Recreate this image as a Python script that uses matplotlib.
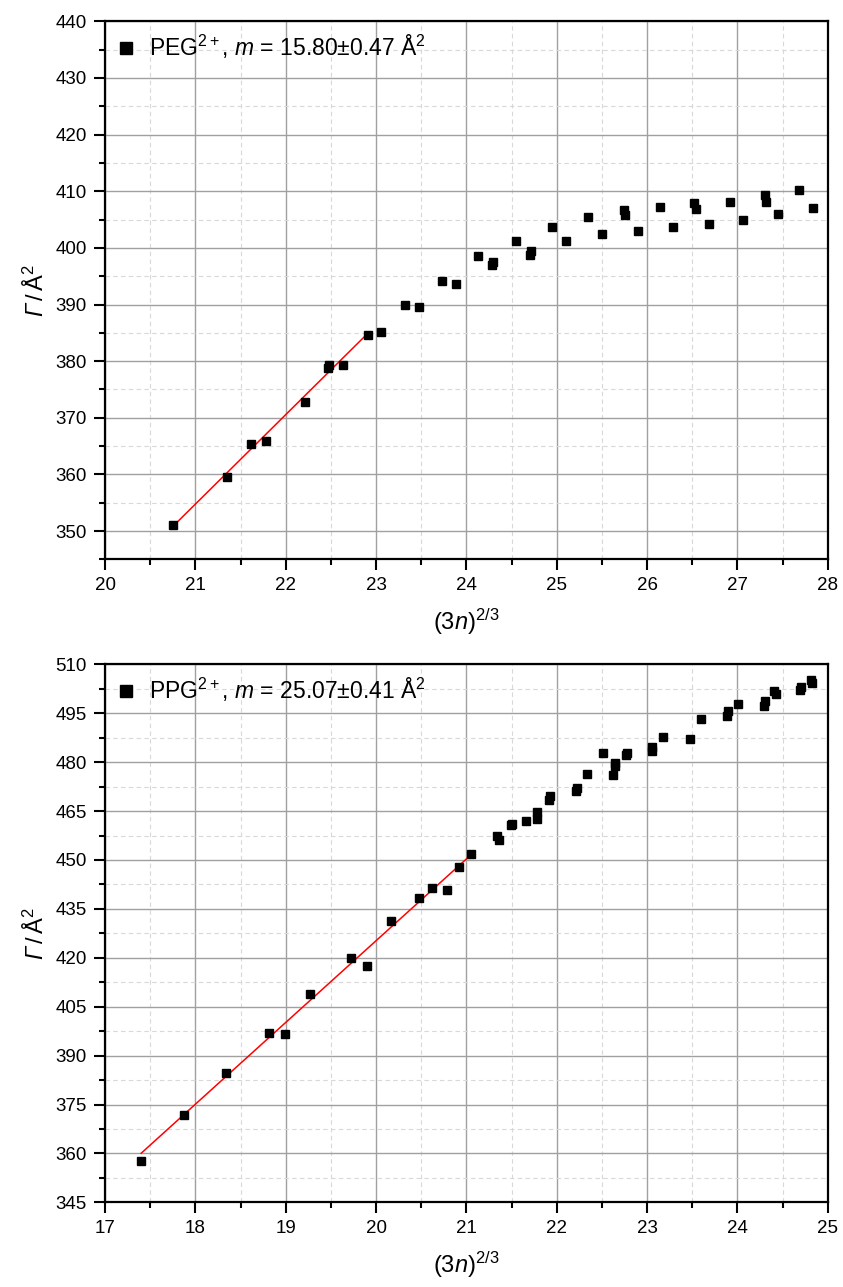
import numpy as np
import matplotlib
matplotlib.use('Agg')
import matplotlib.pyplot as plt
from matplotlib.ticker import MultipleLocator

plt.rcParams['font.family'] = ['Liberation Sans', 'DejaVu Sans']
plt.rcParams['mathtext.fontset'] = 'custom'
plt.rcParams['mathtext.rm'] = 'Liberation Sans'
plt.rcParams['mathtext.it'] = 'Liberation Sans:italic'
# italic capital Gamma goes through \mathsf (mathit forces Greek capitals upright)
plt.rcParams['mathtext.sf'] = 'Liberation Sans:italic'

# PEG2+ data
peg_x = [20.75, 21.35, 21.62, 21.78, 22.21, 22.48, 22.47, 22.63, 22.91, 23.05,
         23.32, 23.47, 23.73, 23.89, 24.13, 24.28, 24.29, 24.55, 24.70, 24.71,
         24.95, 25.10, 25.35, 25.50, 25.74, 25.76, 25.90, 26.14, 26.29, 26.52,
         26.54, 26.69, 26.92, 27.06, 27.30, 27.32, 27.45, 27.68, 27.84]
peg_y = [351.0, 359.6, 365.4, 365.9, 372.8, 379.3, 378.7, 379.4, 384.7, 385.1,
         389.9, 389.5, 394.2, 393.7, 398.5, 397.0, 397.5, 401.3, 398.8, 399.4,
         403.6, 401.3, 405.5, 402.5, 406.7, 405.8, 403.0, 407.2, 403.6, 407.9,
         406.8, 404.2, 408.1, 404.9, 409.3, 408.1, 405.9, 410.2, 407.1]
peg_fit = (15.80, 22.95)       # slope, intercept
peg_fit_range = (20.75, 22.91)
peg_m, peg_err = 15.80, 0.47

# PPG2+ data
ppg_x = [17.40, 17.87, 18.34, 18.81, 18.99, 19.27, 19.72, 19.90, 20.17, 20.48,
         20.62, 20.79, 20.92, 21.05, 21.34, 21.36, 21.49, 21.50, 21.66, 21.78,
         21.78, 21.91, 21.92, 22.21, 22.22, 22.34, 22.51, 22.62, 22.64, 22.65,
         22.77, 22.78, 23.05, 23.06, 23.18, 23.47, 23.60, 23.89, 23.90, 24.01,
         24.29, 24.30, 24.41, 24.43, 24.69, 24.70, 24.81, 24.83]
ppg_y = [357.8, 371.8, 384.8, 396.9, 396.6, 409.0, 420.0, 417.6, 431.4, 438.4,
         441.4, 440.7, 447.9, 451.8, 457.2, 456.0, 460.6, 461.1, 461.9, 462.5,
         464.6, 468.5, 469.6, 471.2, 472.2, 476.4, 482.8, 476.0, 478.8, 479.8,
         482.3, 482.7, 483.5, 484.7, 487.7, 487.0, 493.1, 494.3, 495.6, 497.8,
         497.3, 498.8, 501.8, 500.9, 502.0, 503.1, 505.1, 504.4]
ppg_fit = (25.07, -76.17)
ppg_fit_range = (17.40, 21.07)
ppg_m, ppg_err = 25.07, 0.41

fig = plt.figure(figsize=(8.43, 12.87), dpi=100)
ax1 = fig.add_axes([0.1246, 0.5654, 0.8573, 0.418])
ax2 = fig.add_axes([0.1246, 0.0658, 0.8573, 0.418])

panels = [
    (ax1, peg_x, peg_y, peg_fit, peg_fit_range, 'PEG', peg_m, peg_err,
     (20, 28), (345, 440), 10),
    (ax2, ppg_x, ppg_y, ppg_fit, ppg_fit_range, 'PPG', ppg_m, ppg_err,
     (17, 25), (345, 510), 15),
]

for ax, xs, ys, fit, rng, name, m, err, xlim, ylim, ystep in panels:
    label = name + r'$^{2+}$, $m$ = %.2f±%.2f Å$^{2}$' % (m, err)
    ax.plot(xs, ys, 's', color='black', ms=5.2, label=label, zorder=3)
    xf = np.array(rng)
    ax.plot(xf, fit[0] * xf + fit[1], color='red', lw=1.1, zorder=2)

    ax.set_xlim(*xlim)
    ax.set_ylim(*ylim)
    ax.xaxis.set_major_locator(MultipleLocator(1))
    ax.xaxis.set_minor_locator(MultipleLocator(0.5))
    ax.yaxis.set_major_locator(MultipleLocator(ystep))
    ax.yaxis.set_minor_locator(MultipleLocator(ystep / 2))
    ax.grid(which='major', color='#a0a0a0', lw=1.0, ls='-')
    ax.grid(which='minor', color='#d8d8d8', lw=0.8, ls=(0, (4, 3)))
    ax.set_axisbelow(True)

    for s in ax.spines.values():
        s.set_linewidth(1.6)
    ax.tick_params(which='major', direction='out', length=8, width=1.5,
                   labelsize=13.5, pad=5)
    ax.tick_params(which='minor', direction='out', length=4.5, width=1.5)

    ax.set_xlabel(r'(3$n$)$^{2/3}$', fontsize=17, labelpad=9)
    ax.set_ylabel(r'$\mathsf{\Gamma}\,/\,\mathrm{Å}^{2}$', fontsize=17,
                  labelpad=5)

    ax.legend(loc='upper left', frameon=False, fontsize=16.5, markerscale=1.7,
              handlelength=0.8, handletextpad=0.6, borderaxespad=0.2,
              borderpad=0.3)

fig.savefig('out.png', dpi=100)
